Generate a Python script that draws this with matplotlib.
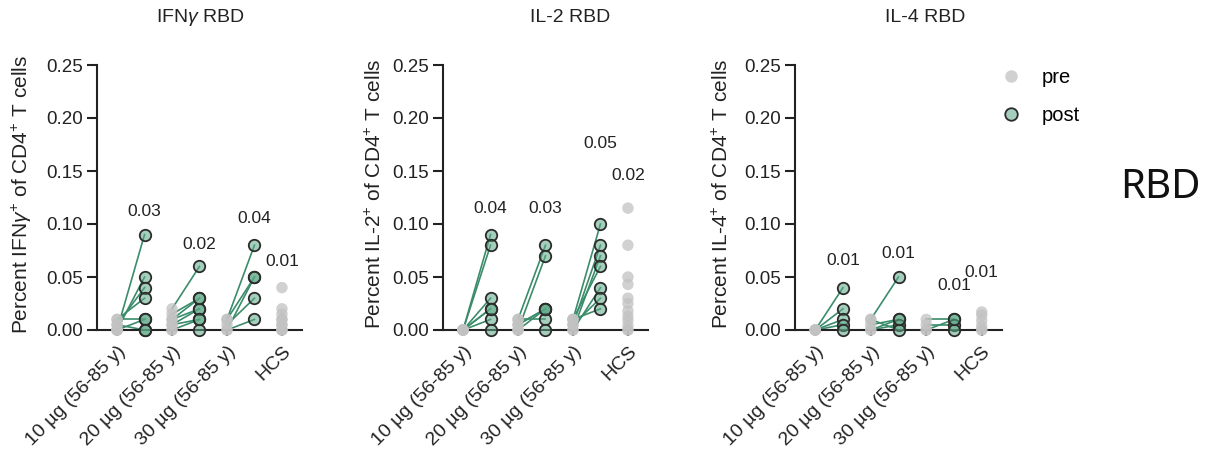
import matplotlib
matplotlib.use("Agg")
import matplotlib.pyplot as plt
import matplotlib.transforms as mtransforms
from matplotlib.lines import Line2D

plt.rcParams['font.family'] = ['Liberation Sans', 'DejaVu Sans']
plt.rcParams['mathtext.fontset'] = 'custom'
plt.rcParams['mathtext.rm'] = 'Liberation Sans'
plt.rcParams['mathtext.it'] = 'Liberation Sans:italic'

# ---------------- data ----------------
categories = ["10 µg (56-85 y)", "20 µg (56-85 y)", "30 µg (56-85 y)", "HCS"]
panel_titles = ["IFN$\\gamma$ RBD", "IL-2 RBD", "IL-4 RBD"]
y_labels = ["Percent IFN$\\gamma^{+}$ of CD4$^{+}$ T cells",
            "Percent IL-2$^{+}$ of CD4$^{+}$ T cells",
            "Percent IL-4$^{+}$ of CD4$^{+}$ T cells"]

# IFN-gamma
ifn_pre_10 = [0.0, 0.0, 0.005, 0.01, 0.0, 0.01, 0.0, 0.005]
ifn_post_10 = [0.09, 0.05, 0.04, 0.03, 0.01, 0.01, 0.0, 0.0]
ifn_pre_20 = [0.02, 0.01, 0.005, 0.0, 0.01, 0.0, 0.015, 0.005]
ifn_post_20 = [0.06, 0.03, 0.02, 0.01, 0.02, 0.0, 0.03, 0.01]
ifn_pre_30 = [0.01, 0.0, 0.005, 0.0, 0.01]
ifn_post_30 = [0.08, 0.05, 0.03, 0.01, 0.05]
ifn_hcs = [0.04, 0.02, 0.015, 0.01, 0.01, 0.005, 0.0, 0.0, 0.0, 0.005]

# IL-2
il2_pre_10 = [0.0, 0.0, 0.0, 0.0, 0.0, 0.0, 0.0]
il2_post_10 = [0.09, 0.08, 0.03, 0.02, 0.01, 0.0, 0.02]
il2_pre_20 = [0.01, 0.0, 0.005, 0.0, 0.01, 0.0, 0.005]
il2_post_20 = [0.08, 0.07, 0.02, 0.02, 0.01, 0.0, 0.02]
il2_pre_30 = [0.01, 0.005, 0.0, 0.01, 0.0, 0.005, 0.01]
il2_post_30 = [0.10, 0.08, 0.07, 0.06, 0.04, 0.03, 0.02]
il2_hcs = [0.115, 0.08, 0.05, 0.043, 0.03, 0.025, 0.018, 0.013, 0.009, 0.004, 0.0, 0.0]

# IL-4
il4_pre_10 = [0.0, 0.0, 0.0, 0.0, 0.0]
il4_post_10 = [0.04, 0.02, 0.01, 0.005, 0.0]
il4_pre_20 = [0.01, 0.005, 0.0, 0.01, 0.0]
il4_post_20 = [0.05, 0.01, 0.005, 0.0, 0.01]
il4_pre_30 = [0.01, 0.005, 0.0, 0.0]
il4_post_30 = [0.01, 0.005, 0.0, 0.01]
il4_hcs = [0.017, 0.014, 0.009, 0.004, 0.0, 0.0]

# annotation labels (text) and their heights (data units)
ifn_labels = ["0.03", "0.02", "0.04", "0.01"]
ifn_label_y = [0.112, 0.081, 0.105, 0.065]
il2_labels = ["0.04", "0.03", "0.05", "0.02"]
il2_label_y = [0.115, 0.115, 0.176, 0.146]
il4_labels = ["0.01", "0.01", "0.01", "0.01"]
il4_label_y = [0.066, 0.072, 0.042, 0.054]

panels = [
    dict(pre=[ifn_pre_10, ifn_pre_20, ifn_pre_30], post=[ifn_post_10, ifn_post_20, ifn_post_30],
         hcs=ifn_hcs, labels=ifn_labels, label_y=ifn_label_y),
    dict(pre=[il2_pre_10, il2_pre_20, il2_pre_30], post=[il2_post_10, il2_post_20, il2_post_30],
         hcs=il2_hcs, labels=il2_labels, label_y=il2_label_y),
    dict(pre=[il4_pre_10, il4_pre_20, il4_pre_30], post=[il4_post_10, il4_post_20, il4_post_30],
         hcs=il4_hcs, labels=il4_labels, label_y=il4_label_y),
]

# ---------------- style ----------------
W, H = 1207, 453
fig = plt.figure(figsize=(W / 100, H / 100), dpi=100)

line_col = "#3b8c6a"
post_face = (0.36, 0.66, 0.52, 0.55)
post_edge = "#2b2b2b"
pre_col = (0.76, 0.76, 0.76, 0.75)
msize = 68

axes_px = [(97, 205), (443, 205), (795, 207)]
top_px, bot_px = 65, 330
title_x_px = [200, 570, 925]
ylabel_x_px = [22, 375, 722]
label_x = [1, 3, 5, 6]

shift = mtransforms.ScaledTranslation(5 / 100, 0, fig.dpi_scale_trans)

for i, (p, (lx, wx)) in enumerate(zip(panels, axes_px)):
    ax = fig.add_axes([lx / W, 1 - bot_px / H, wx / W, (bot_px - top_px) / H])
    ax.set_xlim(-0.73, 6.73)
    ax.set_ylim(0, 0.25)
    for g in range(3):
        xp, xq = 2 * g, 2 * g + 1
        pre, post = p["pre"][g], p["post"][g]
        for a, b in zip(pre, post):
            ax.plot([xp, xq], [a, b], color=line_col, lw=1.2, zorder=2, clip_on=False)
        ax.scatter([xp] * len(pre), pre, s=msize, color=pre_col, edgecolors='none',
                   zorder=3, clip_on=False)
        ax.scatter([xq] * len(post), post, s=msize, facecolor=post_face, edgecolors=post_edge,
                   linewidths=1.3, zorder=4, clip_on=False)
    ax.scatter([6] * len(p["hcs"]), p["hcs"], s=msize, color=pre_col, edgecolors='none',
               zorder=3, clip_on=False)
    for lx_, t, ly in zip(label_x, p["labels"], p["label_y"]):
        ax.text(lx_, ly, t, ha='center', va='center', fontsize=12.5, color='#222222')

    for s in ['top', 'right']:
        ax.spines[s].set_visible(False)
    for s in ['left', 'bottom']:
        ax.spines[s].set_linewidth(1.5)
        ax.spines[s].set_color('#222222')
    ax.set_yticks([0, 0.05, 0.10, 0.15, 0.20, 0.25])
    ax.set_yticklabels(["0.00", "0.05", "0.10", "0.15", "0.20", "0.25"])
    ax.set_xticks([0, 2, 4, 6])
    ax.set_xticklabels(categories, rotation=45, ha='right', va='top', rotation_mode='anchor',
                       fontsize=14)
    for lab in ax.get_xticklabels():
        lab.set_transform(lab.get_transform() + shift)
    ax.tick_params(axis='y', length=7, width=1.5, labelsize=13.5, pad=3, colors='#222222')
    ax.tick_params(axis='x', length=4, width=1.5, pad=5, colors='#222222')

    fig.text(title_x_px[i] / W, 1 - 18 / H, panel_titles[i], ha='center', va='center',
             fontsize=14, color='#222222')
    fig.text(ylabel_x_px[i] / W, 1 - 194 / H, y_labels[i], ha='center', va='center',
             rotation=90, fontsize=15, color='#222222')

handles = [Line2D([], [], marker='o', ls='none', markersize=9, markerfacecolor=pre_col,
                  markeredgecolor='none'),
           Line2D([], [], marker='o', ls='none', markersize=9, markerfacecolor=post_face,
                  markeredgecolor=post_edge, markeredgewidth=1.3)]
fig.legend(handles, ["pre", "post"], loc='upper left', bbox_to_anchor=(1001 / W, 1 - 68 / H),
           frameon=False, fontsize=14.5, handletextpad=1.0, labelspacing=0.95,
           borderaxespad=0, borderpad=0, handlelength=1.0)

fig.text(1160 / W, 1 - 188 / H, "RBD", ha='center', va='center', fontsize=29,
         family=['Noto Sans', 'DejaVu Sans'], color='#111111')

fig.savefig("out.png", dpi=100)
